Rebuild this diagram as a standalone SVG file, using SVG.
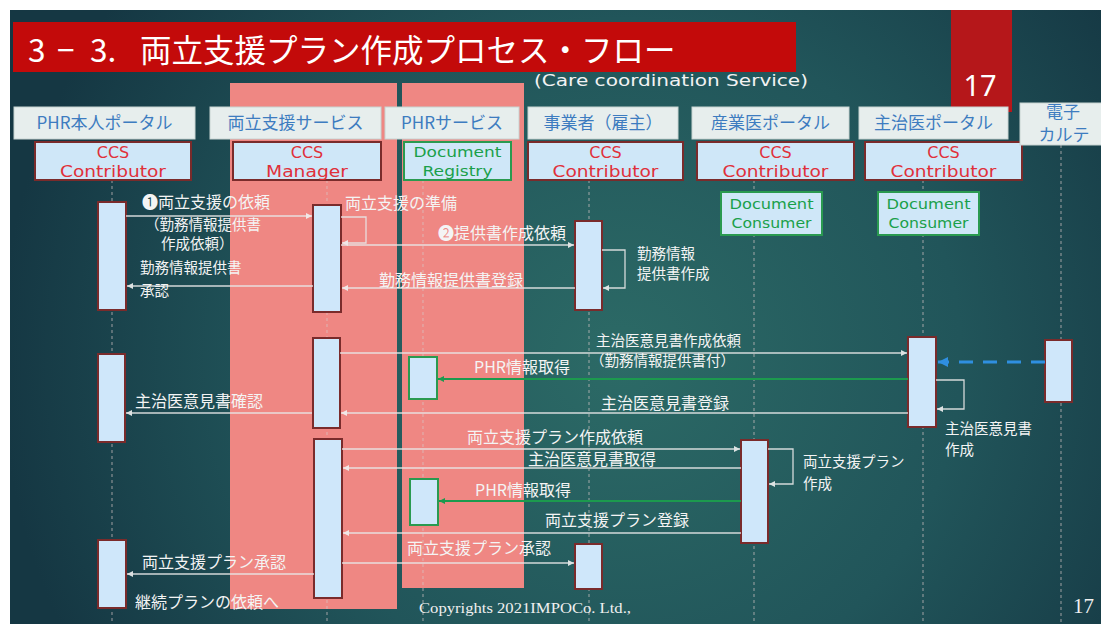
<svg xmlns="http://www.w3.org/2000/svg" width="1101" height="624" viewBox="0 0 1101 624">
<defs>
<radialGradient id="bg" cx="620" cy="360" r="620" gradientUnits="userSpaceOnUse">
<stop offset="0" stop-color="#2c6a66"/>
<stop offset="0.55" stop-color="#21555a"/>
<stop offset="1" stop-color="#153743"/>
</radialGradient>
<marker id="aw" markerWidth="7" markerHeight="7" refX="6" refY="3.5" orient="auto" markerUnits="userSpaceOnUse"><path d="M0,0.5 L6,3.5 L0,6.5 z" fill="#f2f2f2"/></marker>
<marker id="ag" markerWidth="7" markerHeight="7" refX="6" refY="3.5" orient="auto" markerUnits="userSpaceOnUse"><path d="M0,0.5 L6,3.5 L0,6.5 z" fill="#1c9a4e"/></marker>
<marker id="ab" markerWidth="12" markerHeight="10" refX="10" refY="5" orient="auto" markerUnits="userSpaceOnUse"><path d="M0,0 L10,5 L0,10 z" fill="#2f8fe0"/></marker>
<style>
.hdr{fill:#e7eeed;stroke:#c8d4d2;stroke-width:1}
.ht{font-family:"Noto Sans CJK JP","Noto Sans",sans-serif;font-size:17px;fill:#3d7cc0;text-anchor:middle}
.ccs{fill:#cfe7f8;stroke:#7a2b2b;stroke-width:2}
.reg{fill:#cfe7f8;stroke:#2a9a50;stroke-width:2}
.ct{font-family:"DejaVu Sans",sans-serif;font-size:16px;fill:#e0303a;text-anchor:middle}
.gt{font-family:"DejaVu Sans",sans-serif;font-size:14px;fill:#1aa04a;text-anchor:middle}
.life{stroke:#d8c8c8;stroke-width:1;stroke-dasharray:3 3;opacity:0.7;fill:none}
.act{fill:#cfe7fa;stroke:#7a2b2b;stroke-width:2}
.actg{fill:#cfe7fa;stroke:#2a9a50;stroke-width:2}
.msg{stroke:#e8e8e8;stroke-width:1.3;fill:none;opacity:0.9}
.gmsg{stroke:#1c9a4e;stroke-width:2.2;fill:none}
.lb{font-family:"Noto Sans CJK JP","Noto Sans",sans-serif;font-size:16px;fill:#f4f4f4}
.lb2{font-family:"Noto Sans CJK JP","Noto Sans",sans-serif;font-size:14.5px;fill:#f4f4f4}
</style>
</defs>
<rect x="0" y="0" width="1101" height="624" fill="#ffffff"/>
<rect x="10" y="10" width="1091" height="614" fill="url(#bg)"/>

<g id="title">
<rect x="13" y="22" width="783" height="50" fill="#c30a0a"/>
<text font-family="Noto Sans CJK JP,Noto Sans,sans-serif" font-size="31.5" fill="#ffffff"><tspan x="28" y="62">3</tspan><tspan x="57" y="62">−</tspan><tspan x="90" y="62">3.</tspan><tspan x="140" y="62">両立支援プラン作成プロセス・フロー</tspan></text>
<text x="534" y="86" font-family="DejaVu Sans,sans-serif" font-size="16" fill="#f2f2f2" textLength="274" lengthAdjust="spacingAndGlyphs">(Care coordination Service)</text>
<rect x="951" y="10" width="61" height="102" fill="#b5171a"/>
<text x="980" y="96" font-family="Noto Sans,sans-serif" font-size="29" fill="#ffffff" text-anchor="middle">17</text>
</g>

<g id="lanes">
<rect x="230" y="83" width="167" height="526" fill="#ef8783"/>
<rect x="402" y="83" width="122" height="505" fill="#ef8783"/>
</g>

<g id="lifelines">
<line class="life" x1="112" y1="180" x2="112" y2="624"/>
<line class="life" x1="327" y1="180" x2="327" y2="624"/>
<line class="life" x1="423" y1="180" x2="423" y2="624"/>
<line class="life" x1="589" y1="180" x2="589" y2="624"/>
<line class="life" x1="754" y1="180" x2="754" y2="624"/>
<line class="life" x1="923" y1="180" x2="923" y2="624"/>
<line class="life" x1="1061" y1="145" x2="1061" y2="624"/>
</g>

<g id="node-phr-portal">
<rect class="hdr" x="14" y="107" width="181" height="32"/>
<text class="ht" x="104.5" y="129">PHR本人ポータル</text>
<rect class="ccs" x="35" y="142" width="156" height="38"/>
<text class="ct" x="113" y="158">CCS</text>
<text class="ct" x="113" y="177" textLength="106" lengthAdjust="spacingAndGlyphs">Contributor</text>
</g>
<g id="node-ryoritsu">
<rect class="hdr" x="210" y="107" width="171" height="32"/>
<text class="ht" x="295.5" y="129">両立支援サービス</text>
<rect class="ccs" x="233" y="142" width="148" height="38"/>
<text class="ct" x="307" y="158">CCS</text>
<text class="ct" x="307" y="177" textLength="82" lengthAdjust="spacingAndGlyphs">Manager</text>
</g>
<g id="node-phr-service">
<rect class="hdr" x="385" y="107" width="134" height="32"/>
<text class="ht" x="452" y="129">PHRサービス</text>
<rect class="reg" x="404" y="142" width="107" height="38"/>
<text class="gt" x="457.5" y="157" font-size="15" textLength="88" lengthAdjust="spacingAndGlyphs">Document</text>
<text class="gt" x="457.5" y="176" font-size="15" textLength="70" lengthAdjust="spacingAndGlyphs">Registry</text>
</g>
<g id="node-employer">
<rect class="hdr" x="528" y="107" width="150" height="32"/>
<text class="ht" x="603" y="129">事業者（雇主）</text>
<rect class="ccs" x="528" y="142" width="155" height="38"/>
<text class="ct" x="605.5" y="158">CCS</text>
<text class="ct" x="605.5" y="177" textLength="106" lengthAdjust="spacingAndGlyphs">Contributor</text>
</g>
<g id="node-sangyoui">
<rect class="hdr" x="692" y="107" width="157" height="32"/>
<text class="ht" x="770.5" y="129">産業医ポータル</text>
<rect class="ccs" x="697" y="142" width="157" height="38"/>
<text class="ct" x="775.5" y="158">CCS</text>
<text class="ct" x="775.5" y="177" textLength="106" lengthAdjust="spacingAndGlyphs">Contributor</text>
<rect class="reg" x="721" y="192" width="101" height="43"/>
<text class="gt" x="771.5" y="209" textLength="84" lengthAdjust="spacingAndGlyphs">Document</text>
<text class="gt" x="771.5" y="228" textLength="80" lengthAdjust="spacingAndGlyphs">Consumer</text>
</g>
<g id="node-shujii">
<rect class="hdr" x="859" y="107" width="149" height="32"/>
<text class="ht" x="933.5" y="129">主治医ポータル</text>
<rect class="ccs" x="865" y="142" width="157" height="38"/>
<text class="ct" x="943.5" y="158">CCS</text>
<text class="ct" x="943.5" y="177" textLength="106" lengthAdjust="spacingAndGlyphs">Contributor</text>
<rect class="reg" x="878" y="192" width="101" height="43"/>
<text class="gt" x="928.5" y="209" textLength="84" lengthAdjust="spacingAndGlyphs">Document</text>
<text class="gt" x="928.5" y="228" textLength="80" lengthAdjust="spacingAndGlyphs">Consumer</text>
</g>
<g id="node-karte">
<rect class="hdr" x="1020" y="103" width="85" height="42"/>
<text class="ht" font-size="14"><tspan x="1063" y="118">電子</tspan><tspan x="1064" y="141">カルテ</tspan></text>
</g>

<g id="activations">
<rect class="act" x="98" y="202" width="28" height="108"/>
<rect class="act" x="98" y="354" width="27" height="88"/>
<rect class="act" x="98" y="540" width="28" height="68"/>
<rect class="act" x="313" y="205" width="28" height="107"/>
<rect class="act" x="313" y="338" width="27" height="90"/>
<rect class="act" x="314" y="439" width="28" height="159"/>
<rect class="actg" x="409" y="357" width="28" height="42"/>
<rect class="actg" x="410" y="479" width="28" height="46"/>
<rect class="act" x="575" y="221" width="27" height="89"/>
<rect class="act" x="575" y="544" width="27" height="45"/>
<rect class="act" x="741" y="440" width="27" height="103"/>
<rect class="act" x="908" y="337" width="28" height="90"/>
<rect class="act" x="1045" y="340" width="27" height="62"/>
</g>

<g id="connectors">
<line class="msg" x1="126" y1="216" x2="312" y2="216" marker-end="url(#aw)"/>
<polyline class="msg" points="341,217 366,217 366,243 342,243" marker-end="url(#aw)"/>
<line class="msg" x1="341" y1="245" x2="574" y2="245" marker-end="url(#aw)"/>
<polyline class="msg" points="602,250 625,250 625,288 603,288" marker-end="url(#aw)"/>
<line class="msg" x1="575" y1="288" x2="342" y2="288" marker-end="url(#aw)"/>
<line class="msg" x1="313" y1="286" x2="127" y2="286" marker-end="url(#aw)"/>
<line class="msg" x1="340" y1="353" x2="907" y2="353" marker-end="url(#aw)"/>
<line x1="1045" y1="362" x2="938" y2="362" stroke="#2f8fe0" stroke-width="3" stroke-dasharray="14 10" marker-end="url(#ab)"/>
<line class="gmsg" x1="908" y1="379" x2="438" y2="379" marker-end="url(#ag)"/>
<polyline class="msg" points="936,380 964,380 964,409 937,409" marker-end="url(#aw)"/>
<line class="msg" x1="908" y1="413" x2="341" y2="413" marker-end="url(#aw)"/>
<line class="msg" x1="312" y1="413" x2="126" y2="413" marker-end="url(#aw)"/>
<line class="msg" x1="342" y1="449" x2="740" y2="449" marker-end="url(#aw)"/>
<line class="msg" x1="741" y1="468" x2="343" y2="468" marker-end="url(#aw)"/>
<polyline class="msg" points="768,449 793,449 793,484 769,484" marker-end="url(#aw)"/>
<line class="gmsg" x1="741" y1="501" x2="439" y2="501" marker-end="url(#ag)"/>
<line class="msg" x1="741" y1="533" x2="343" y2="533" marker-end="url(#aw)"/>
<line class="msg" x1="342" y1="563" x2="574" y2="563" marker-end="url(#aw)"/>
<line class="msg" x1="314" y1="574" x2="127" y2="574" marker-end="url(#aw)"/>
</g>

<g id="labels">
<text class="lb" x="142" y="208">❶両立支援の依頼</text>
<text class="lb2" x="145" y="230">（勤務情報提供書</text>
<text class="lb2" x="161" y="249">作成依頼）</text>
<text class="lb" x="345" y="209">両立支援の準備</text>
<text class="lb" x="438" y="239">❷提供書作成依頼</text>
<text class="lb2" x="637" y="259">勤務情報</text>
<text class="lb2" x="637" y="279">提供書作成</text>
<text class="lb" x="379" y="286">勤務情報提供書登録</text>
<text class="lb2" x="140" y="273">勤務情報提供書</text>
<text class="lb2" x="140" y="296">承認</text>
<text class="lb2" x="596" y="346">主治医意見書作成依頼</text>
<text class="lb2" x="590" y="366">（勤務情報提供書付）</text>
<text class="lb" x="474" y="373">PHR情報取得</text>
<text class="lb" x="601" y="409">主治医意見書登録</text>
<text class="lb" x="135" y="407">主治医意見書確認</text>
<text class="lb2" x="945" y="434">主治医意見書</text>
<text class="lb2" x="945" y="455">作成</text>
<text class="lb" x="467" y="443">両立支援プラン作成依頼</text>
<text class="lb" x="528" y="465">主治医意見書取得</text>
<text class="lb2" x="803" y="467">両立支援プラン</text>
<text class="lb2" x="803" y="489">作成</text>
<text class="lb" x="475" y="496">PHR情報取得</text>
<text class="lb" x="545" y="526">両立支援プラン登録</text>
<text class="lb" x="407" y="554">両立支援プラン承認</text>
<text class="lb" x="142" y="568">両立支援プラン承認</text>
<text class="lb" x="135" y="608">継続プランの依頼へ</text>
<text x="419" y="613" font-family="Liberation Serif,serif" font-size="15" fill="#f0f0f0" textLength="212" lengthAdjust="spacingAndGlyphs">Copyrights 2021IMPOCo. Ltd.,</text>
<text x="1073" y="613" font-family="Liberation Serif,serif" font-size="21" fill="#f0f0f0">17</text>
</g>
</svg>
